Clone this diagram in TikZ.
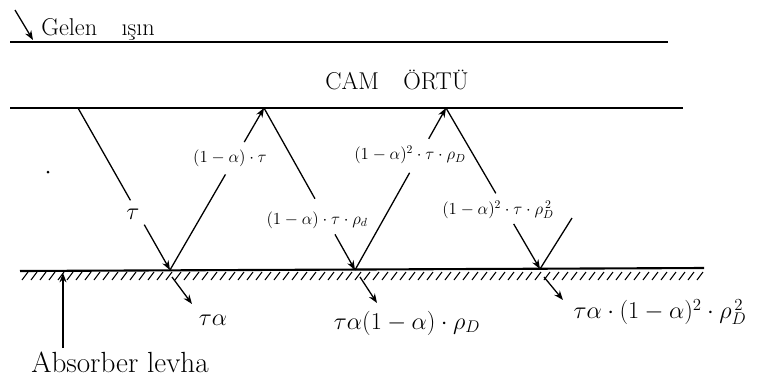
\documentclass[tikz,border=0pt]{standalone}
\usetikzlibrary{arrows.meta}
\begin{document}
\begin{tikzpicture}[x=0.03cm,y=-0.03cm,>={Stealth[length=8pt,width=6pt]},every node/.style={font=\Large},
    plate/.style={line width=1.8pt}, ray/.style={line width=1.1pt}, lbl/.style={inner sep=1pt},
    big/.style={font=\huge, inner sep=1pt}]
    \useasboundingbox (0,0) rectangle (761,378);

    % Glass cover and absorber plate
    \coordinate (g1) at (10,42);  \coordinate (g2) at (668,42);
    \coordinate (g3) at (10,108); \coordinate (g4) at (683,108);
    \coordinate (p1) at (20,271); \coordinate (p2) at (704,268);
    \draw[plate] (g1) -- (g2);
    \draw[plate] (g3) -- (g4);
    \draw[plate] (p1) -- (p2);
    \foreach \x in {22,31,...,697}
        \draw[line width=0.9pt] (\x,280) -- (\x+6,272);

    % Texts
    \coordinate (sun) at (15,10);
    \coordinate (hit) at (33,40);
    \coordinate (foot) at (63,348);
    \coordinate (plate) at (63,273);
    \node[big, anchor=west] (gelen) at (40,29) {Gelen\quad ışın};
    \node[big] (cam) at (397,80) {CAM\quad ÖRTÜ};
    \node[big, font=\Huge] (abs) at (120,362) {Absorber levha};
    \draw[ray,->] (sun) -- (hit);
    \draw[ray,->] (foot) -- (plate);
    \fill (48,172) circle (1.5);

    % Reflection points
    \coordinate (t0) at (78,108);
    \coordinate (b1) at (170,270);
    \coordinate (t1) at (264,108);
    \coordinate (b2) at (355,270);
    \coordinate (t2) at (446,108);
    \coordinate (b3) at (540,269);
    \coordinate (e)  at (572,218);

    % Gaps for the labels
    \path (t0) -- (b1) coordinate[pos=0.57] (r1a) coordinate[pos=0.72] (r1b);
    \path (b1) -- (t1) coordinate[pos=0.59] (r2a) coordinate[pos=0.79] (r2b);
    \path (t1) -- (b2) coordinate[pos=0.56] (r3a) coordinate[pos=0.78] (r3b);
    \path (b2) -- (t2) coordinate[pos=0.60] (r4a) coordinate[pos=0.81] (r4b);
    \path (t2) -- (b3) coordinate[pos=0.53] (r5a) coordinate[pos=0.72] (r5b);

    % Rays
    \draw[ray] (t0) -- (r1a);  \draw[ray,->] (r1b) -- (b1);
    \draw[ray] (b1) -- (r2a);  \draw[ray,->] (r2b) -- (t1);
    \draw[ray] (t1) -- (r3a);  \draw[ray,->] (r3b) -- (b2);
    \draw[ray] (b2) -- (r4a);  \draw[ray,->] (r4b) -- (t2);
    \draw[ray] (t2) -- (r5a);  \draw[ray,->] (r5b) -- (b3);
    \draw[ray] (b3) -- (e);

    % Ray labels
    \node[big] (l1) at (133,214) {$\tau$};
    \node[lbl] (l2) at (230,158) {$(1-\alpha)\cdot\tau$};
    \node[lbl] (l3) at (317,220) {$(1-\alpha)\cdot\tau\cdot\rho_d$};
    \node[lbl] (l4) at (410,155) {$(1-\alpha)^2\cdot\tau\cdot\rho_D$};
    \node[lbl] (l5) at (498,210) {$(1-\alpha)^2\cdot\tau\cdot\rho_D^{\,2}$};

    % Absorbed parts
    \coordinate (d1a) at (172,277); \coordinate (d1b) at (192,304);
    \coordinate (d2a) at (360,277); \coordinate (d2b) at (377,303);
    \coordinate (d3a) at (544,277); \coordinate (d3b) at (563,300);
    \draw[ray,->] (d1a) -- (d1b);
    \draw[ray,->] (d2a) -- (d2b);
    \draw[ray,->] (d3a) -- (d3b);
    \node[big] (a1) at (213,320) {$\tau\alpha$};
    \node[big] (a2) at (407,323) {$\tau\alpha(1-\alpha)\cdot\rho_D$};
    \node[big] (a3) at (660,312) {$\tau\alpha\cdot(1-\alpha)^2\cdot\rho_D^{\,2}$};
\end{tikzpicture}
\end{document}
